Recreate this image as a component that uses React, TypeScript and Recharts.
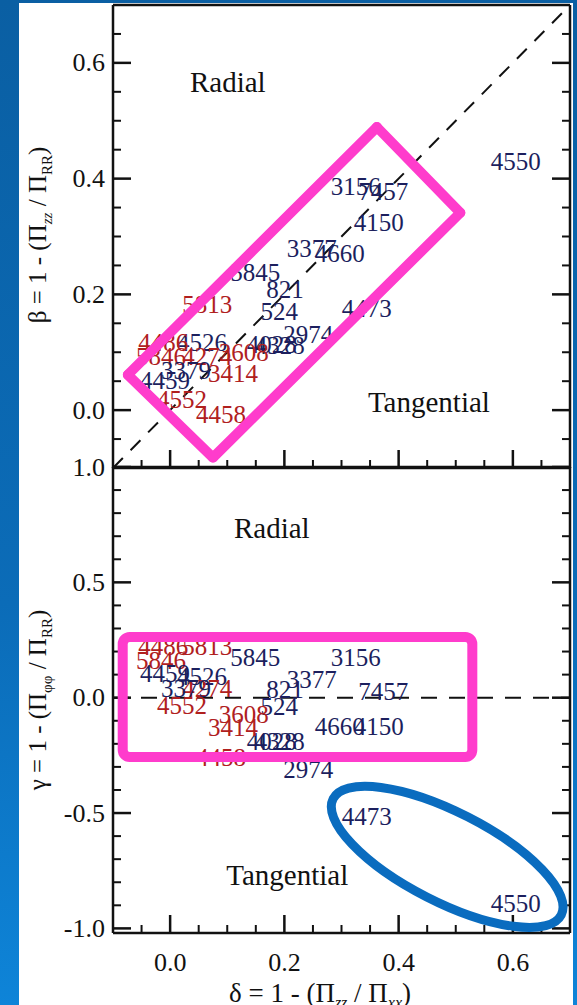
import React from "react";
import { ScatterChart, Scatter, XAxis, YAxis, ReferenceLine, ReferenceArea, ReferenceDot } from "recharts";

// object ids, colour group (r = red, n = navy) and the three anisotropy values
const ids = ["4550", "3156", "7457", "4150", "3377", "4660", "5845", "821", "524", "4473", "2974", "4028", "4328", "5813", "4526", "4486", "5846", "4274", "3608", "3379", "4459", "3414", "4552", "4458"];
const kind = ["n", "n", "n", "n", "n", "n", "n", "n", "n", "n", "n", "n", "n", "r", "n", "r", "r", "r", "r", "n", "n", "r", "r", "r"];
const delta = [0.605, 0.325, 0.373, 0.365, 0.248, 0.297, 0.149, 0.201, 0.191, 0.344, 0.242, 0.178, 0.192, 0.065, 0.056, -0.012, -0.016, 0.065, 0.129, 0.028, -0.009, 0.11, 0.021, 0.089];
const beta = [0.429, 0.387, 0.377, 0.325, 0.28, 0.27, 0.237, 0.208, 0.17, 0.176, 0.13, 0.113, 0.111, 0.183, 0.116, 0.116, 0.092, 0.092, 0.1, 0.069, 0.052, 0.064, 0.018, -0.008];
const gamma = [-0.89, 0.176, 0.025, -0.127, 0.077, -0.127, 0.176, 0.035, -0.04, -0.517, -0.313, -0.192, -0.192, 0.22, 0.094, 0.22, 0.163, 0.042, -0.075, 0.042, 0.107, -0.131, -0.032, -0.261];

const xTicks = [-0.1, -0.05, 0, 0.05, 0.1, 0.15, 0.2, 0.25, 0.3, 0.35, 0.4, 0.45, 0.5, 0.55, 0.6, 0.65, 0.7];
const xMajor = [0, 0.2, 0.4, 0.6];
const betaTicks = [-0.1, -0.05, 0, 0.05, 0.1, 0.15, 0.2, 0.25, 0.3, 0.35, 0.4, 0.45, 0.5, 0.55, 0.6, 0.65, 0.7];
const betaMajor = [0, 0.2, 0.4, 0.6];
const gammaTicks = [-1, -0.9, -0.8, -0.7, -0.6, -0.5, -0.4, -0.3, -0.2, -0.1, 0, 0.1, 0.2, 0.3, 0.4, 0.5, 0.6, 0.7, 0.8, 0.9, 1];
const gammaMajor = [-1, -0.5, 0, 0.5, 1];

const topData = ids.map((id, i) => ({ id, kind: kind[i], x: delta[i], y: beta[i] }));
const botData = ids.map((id, i) => ({ id, kind: kind[i], x: delta[i], y: gamma[i] }));

const FONT = "'Liberation Serif', 'Times New Roman', serif";
const INK = "#111";
const RED = "#b0201e";
const NAVY = "#1c1f5e";
const PINK = "#ff3ccc";

const isMajor = (v: number, majors: number[]) => majors.some(m => Math.abs(m - v) < 1e-6);

// inward tick marks, dir = direction the tick points to
const makeTick = (majors: number[], dir: "up" | "down" | "left" | "right", showLabel: boolean) => (p: any) => {
  const { x, y, payload } = p;
  const v = payload.value;
  const major = isMajor(v, majors);
  const len = major ? 18 : 8;
  const dx = dir === "right" ? len : dir === "left" ? -len : 0;
  const dy = dir === "down" ? len : dir === "up" ? -len : 0;
  let label = null;
  if (showLabel && major) {
    if (dir === "right") {
      label = <text x={x - 8} y={y} textAnchor="end" dominantBaseline="central" fontFamily={FONT} fontSize={26} fill={INK}>{v.toFixed(1)}</text>;
    } else {
      label = <text x={x} y={y + 29} textAnchor="middle" dominantBaseline="central" fontFamily={FONT} fontSize={26} fill={INK}>{v.toFixed(1)}</text>;
    }
  }
  return (
    <g>
      <line x1={x} y1={y} x2={x + dx} y2={y + dy} stroke={INK} strokeWidth={major ? 2.5 : 2} />
      {label}
    </g>
  );
};

const IdLabel = (p: any) => (
  <text x={p.cx} y={p.cy} textAnchor="middle" dominantBaseline="central" fontFamily={FONT} fontSize={25}
    fill={p.payload.kind === "r" ? RED : NAVY}>{p.payload.id}</text>
);

const regionText = (txt: string) => (p: any) => (
  <text x={p.cx} y={p.cy} textAnchor="middle" dominantBaseline="central" fontFamily={FONT} fontSize={29} fill={INK}>{txt}</text>
);

const axisProps = { tickSize: 0, tickMargin: 0, interval: 0 as const, axisLine: { stroke: INK, strokeWidth: 2.5 }, tickLine: false };

const box = [
  { x: 0.362, y: 0.489 },
  { x: 0.508, y: 0.341 },
  { x: 0.075, y: -0.082 },
  { x: -0.074, y: 0.061 },
];

export default function App() {
  return (
    <div style={{ position: "absolute", left: 0, top: 0, width: 577, height: 1005, overflow: "hidden",
      background: "linear-gradient(180deg, #0a5fa3 0%, #0b6cb8 60%, #0e84d8 100%)" }}>
      <div style={{ position: "absolute", left: 19, top: 3, width: 554, height: 1002, background: "#fff" }} />

      <div style={{ position: "absolute", left: 0, top: 0 }}>
        <ScatterChart width={577} height={473} margin={{ top: 4, right: 6, left: 112, bottom: 4 }}>
          <XAxis xAxisId="x" dataKey="x" type="number" domain={[-0.1, 0.7]} ticks={xTicks} height={1} orientation="bottom" allowDataOverflow {...axisProps} tick={makeTick(xMajor, "up", false)} />
          <XAxis xAxisId="xt" type="number" domain={[-0.1, 0.7]} ticks={xTicks} height={1} orientation="top" allowDataOverflow {...axisProps} tick={makeTick(xMajor, "down", false)} />
          <YAxis yAxisId="y" dataKey="y" type="number" domain={[-0.1, 0.7]} ticks={betaTicks} width={1} orientation="left" allowDataOverflow {...axisProps} tick={makeTick(betaMajor, "right", true)} />
          <YAxis yAxisId="yr" type="number" domain={[-0.1, 0.7]} ticks={betaTicks} width={1} orientation="right" allowDataOverflow {...axisProps} tick={makeTick(betaMajor, "left", false)} />
          <ReferenceLine xAxisId="x" yAxisId="y" segment={[{ x: -0.1, y: -0.1 }, { x: 0.7, y: 0.7 }]} stroke={INK} strokeWidth={2} strokeDasharray="14 11" />
          <Scatter xAxisId="x" yAxisId="y" data={topData} shape={IdLabel} isAnimationActive={false} />
          <ReferenceDot xAxisId="x" yAxisId="y" x={0.101} y={0.567} r={0} shape={regionText("Radial")} />
          <ReferenceDot xAxisId="x" yAxisId="y" x={0.453} y={0.014} r={0} shape={regionText("Tangential")} />
          {box.map((c, i) => (
            <ReferenceLine key={i} xAxisId="x" yAxisId="y" segment={[c, box[(i + 1) % 4]]} stroke={PINK} strokeWidth={10} strokeLinecap="round" zIndex={2500} />
          ))}
        </ScatterChart>
      </div>

      <div style={{ position: "absolute", left: 0, top: 440 }}>
        <ScatterChart width={577} height={565} margin={{ top: 26, right: 6, left: 112, bottom: 71 }}>
          <XAxis xAxisId="x" dataKey="x" type="number" domain={[-0.1, 0.7]} ticks={xTicks} height={1} orientation="bottom" allowDataOverflow {...axisProps} tick={makeTick(xMajor, "up", true)} />
          <XAxis xAxisId="xt" type="number" domain={[-0.1, 0.7]} ticks={xTicks} height={1} orientation="top" allowDataOverflow {...axisProps} tick={makeTick(xMajor, "down", false)} />
          <YAxis yAxisId="y" dataKey="y" type="number" domain={[-1.02, 1]} ticks={gammaTicks} width={1} orientation="left" allowDataOverflow {...axisProps} tick={makeTick(gammaMajor, "right", true)} />
          <YAxis yAxisId="yr" type="number" domain={[-1.02, 1]} ticks={gammaTicks} width={1} orientation="right" allowDataOverflow {...axisProps} tick={makeTick(gammaMajor, "left", false)} />
          <ReferenceLine xAxisId="x" yAxisId="y" y={0} stroke={INK} strokeWidth={2} strokeDasharray="16 12" />
          <Scatter xAxisId="x" yAxisId="y" data={botData} shape={IdLabel} isAnimationActive={false} />
          <ReferenceDot xAxisId="x" yAxisId="y" x={0.178} y={0.736} r={0} shape={regionText("Radial")} />
          <ReferenceDot xAxisId="x" yAxisId="y" x={0.205} y={-0.769} r={0} shape={regionText("Tangential")} />
          <ReferenceArea xAxisId="x" yAxisId="y" x1={-0.083} x2={0.529} y1={-0.257} y2={0.263} zIndex={2500}
            shape={(p: any) => <rect x={p.x} y={p.y} width={p.width} height={p.height} rx={7} fill="none" stroke={PINK} strokeWidth={10} />} />
          <ReferenceDot xAxisId="x" yAxisId="y" x={0.485} y={-0.69} r={0} zIndex={2500}
            shape={(p: any) => <ellipse cx={p.cx} cy={p.cy} rx={128} ry={45} transform={`rotate(27 ${p.cx} ${p.cy})`} fill="none" stroke="#0a6cbf" strokeWidth={9} />} />
        </ScatterChart>
      </div>

      <div style={{ position: "absolute", left: 40, top: 235, transform: "translate(-50%, -50%) rotate(-90deg)", whiteSpace: "nowrap", fontFamily: FONT, fontSize: 25, color: INK }}>
        β = 1 - (Π<sub style={{ fontSize: 15, fontStyle: "italic" }}>zz</sub> / Π<sub style={{ fontSize: 15 }}>RR</sub>)
      </div>
      <div style={{ position: "absolute", left: 40, top: 700, transform: "translate(-50%, -50%) rotate(-90deg)", whiteSpace: "nowrap", fontFamily: FONT, fontSize: 25, color: INK }}>
        γ = 1 - (Π<sub style={{ fontSize: 15 }}>φφ</sub> / Π<sub style={{ fontSize: 15 }}>RR</sub>)
      </div>
      <div style={{ position: "absolute", left: 320, top: 995, transform: "translate(-50%, -50%)", whiteSpace: "nowrap", fontFamily: FONT, fontSize: 27, color: INK }}>
        δ = 1 - (Π<sub style={{ fontSize: 16, fontStyle: "italic" }}>zz</sub> / Π<sub style={{ fontSize: 16, fontStyle: "italic" }}>xx</sub>)
      </div>
    </div>
  );
}
